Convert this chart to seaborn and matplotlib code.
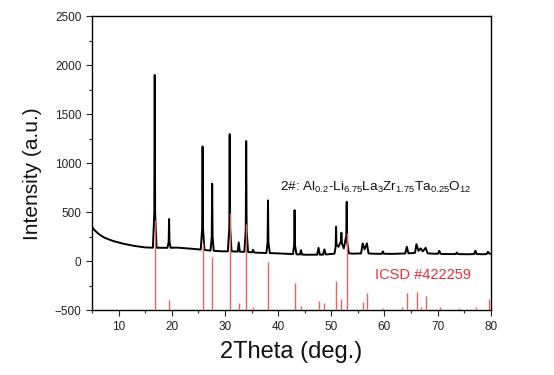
import matplotlib
matplotlib.use("Agg")
import matplotlib.pyplot as plt
from matplotlib.ticker import MultipleLocator
import seaborn as sns
import pandas as pd

two_theta = [
    5.0, 5.5, 6.0, 6.5, 7.0, 7.5, 8.0, 9.0, 10.0, 11.0, 12.0, 13.0, 14.0, 15.0, 16.0,
    16.45, 16.72, 16.8, 16.88, 17.15, 18.0,
    19.2, 19.42, 19.5, 19.58, 19.8,
    21.0, 22.0, 23.0, 24.0, 25.0,
    25.45, 25.72, 25.8, 25.88, 26.15, 26.8,
    27.3, 27.52, 27.6, 27.68, 27.9, 28.5, 29.5, 30.3,
    30.55, 30.82, 30.9, 30.98, 31.25, 32.0,
    32.4, 32.6, 32.8, 33.4,
    33.65, 33.92, 34.0, 34.08, 34.35,
    35.1, 35.3, 35.5, 36.5, 37.5,
    37.8, 38.02, 38.1, 38.18, 38.45, 39.5, 41.0, 42.5,
    42.8, 43.02, 43.1, 43.18, 43.45,
    44.1, 44.3, 44.5, 45.5, 46.5,
    47.35, 47.6, 47.85, 48.45, 48.7, 48.95, 49.8,
    50.6, 50.82, 50.9, 50.98, 51.35, 51.8, 51.9, 52.0, 52.35, 52.82, 52.9, 52.98, 53.3,
    54.0, 55.0, 55.6, 55.9, 56.25, 56.7, 57.0, 58.5,
    59.5, 59.7, 59.9, 61.5, 63.0,
    63.9, 64.2, 64.5, 65.4, 65.75, 66.0, 66.4, 66.8, 67.2, 67.75, 68.1, 69.0,
    70.05, 70.3, 70.55, 72.0, 73.4, 73.6, 73.8, 75.5,
    76.85, 77.1, 77.35, 78.5, 79.2, 79.45, 79.7, 80.0,
]
intensity = [
    350, 315, 290, 268, 250, 236, 225, 205, 190, 176, 165, 155, 147, 140, 138,
    137, 490, 1900, 490, 137, 136,
    136, 195, 430, 195, 136,
    138, 134, 130, 125, 120,
    118, 330, 1170, 330, 115, 110,
    108, 245, 790, 245, 106, 103, 100, 100,
    100, 340, 1296, 340, 100, 98,
    97, 190, 96, 95,
    95, 320, 1225, 320, 93,
    90, 115, 88, 85, 84,
    83, 190, 620, 190, 82, 80, 76, 72,
    72, 162, 520, 162, 70,
    68, 112, 67, 65, 66,
    66, 136, 66, 66, 120, 68, 72,
    76, 150, 350, 170, 146, 200, 289, 180, 130, 260, 605, 200, 80,
    76, 78, 78, 181, 120, 181, 78, 75,
    75, 100, 75, 74, 76,
    78, 146, 80, 82, 85, 173, 105, 130, 100, 136, 80, 76,
    75, 105, 74, 72, 72, 88, 72, 70,
    72, 105, 72, 70, 72, 95, 78, 74,
]

# Reference pattern ICSD #422259: stick positions and top values
ref_pos = [16.8, 19.5, 25.8, 27.6, 30.9, 32.6, 34.0, 35.3, 38.1, 43.1, 44.3,
           47.6, 48.7, 50.9, 51.9, 52.9, 55.9, 56.7, 59.7, 63.3, 64.3, 66.1,
           66.8, 67.9, 70.4, 74.0, 77.3, 79.7]
ref_top = [420, -400, 190, 40, 495, -430, 380, -470, -10, -225, -455,
           -410, -425, -200, -390, 290, -415, -323, -475, -470, -323, -313,
           -470, -360, -472, -475, -468, -390]
ref_base = -500

sample_label = r"2#: Al$_{0.2}$-Li$_{6.75}$La$_{3}$Zr$_{1.75}$Ta$_{0.25}$O$_{12}$"
ref_label = "ICSD #422259"
x_label = "2Theta (deg.)"
y_label = "Intensity (a.u.)"

sns.set_style("ticks")
plt.rcParams["font.family"] = ["Liberation Sans", "DejaVu Sans"]
plt.rcParams["mathtext.default"] = "regular"

fig = plt.figure(figsize=(5.54, 3.75), dpi=100)
ax = fig.add_axes([0.166, 0.173, 0.72, 0.784])

df = pd.DataFrame({"two_theta": two_theta, "intensity": intensity})
sns.lineplot(data=df, x="two_theta", y="intensity", ax=ax, color="black",
             linewidth=1.4, sort=False, zorder=2)

ax.vlines(ref_pos, ref_base, ref_top, colors="#e46464", linewidth=1.0, zorder=3)

ax.text(40.3, 717, sample_label, fontsize=9.7, ha="left", va="baseline", color="#111111")
ax.text(58.2, -187, ref_label, fontsize=10.5, ha="left", va="baseline", color="#e5303a")

ax.set_xlim(5, 80)
ax.set_ylim(-500, 2500)
ax.xaxis.set_major_locator(MultipleLocator(10))
ax.xaxis.set_minor_locator(MultipleLocator(5))
ax.yaxis.set_major_locator(MultipleLocator(500))
ax.yaxis.set_minor_locator(MultipleLocator(250))
ax.tick_params(which="major", direction="out", length=4, width=0.8,
               labelsize=8.5, colors="#222222", top=False, right=False)
ax.tick_params(which="minor", direction="out", length=2.5, width=0.8,
               colors="#222222", top=False, right=False)
for s in ax.spines.values():
    s.set_visible(True)
    s.set_linewidth(1.0)
    s.set_color("black")

ax.set_xlabel(x_label, fontsize=17, color="#111111")
ax.set_ylabel(y_label, fontsize=15, color="#111111")
ax.xaxis.set_label_coords(0.5, -0.105)
ax.yaxis.set_label_coords(-0.125, 0.463)

fig.savefig("out.png", dpi=100, facecolor="white")
